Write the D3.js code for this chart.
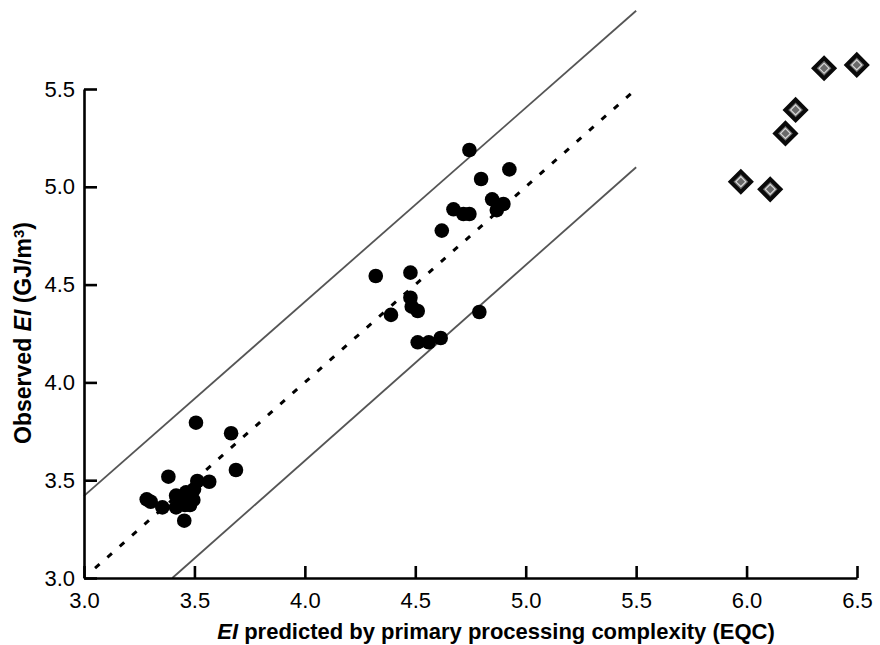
<!doctype html>
<html lang="en">
<head>
  <meta charset="utf-8">
  <title>Observed vs predicted EI</title>
  <script src="https://cdn.jsdelivr.net/npm/d3@7"></script>
  <style>
    body { margin: 0; background: #fff; }
    text { font-family: "Liberation Sans", Arial, sans-serif; fill: #000; }
  </style>
</head>
<body>
  <div id="chart"></div>
  <script>
    const BLACK = "#000";
    const LINE_GREY = "#555";

    // Circles: EI predicted (x) vs observed (y)
    const predictedEI = [
      3.507, 3.666, 3.688, 3.382, 3.513, 3.567, 3.284, 3.302, 3.355, 3.417,
      3.417, 3.462, 3.498, 3.495, 3.457, 3.480, 3.435, 3.454,
      4.745, 4.926, 4.798, 4.848, 4.899, 4.869, 4.673, 4.718, 4.745, 4.620,
      4.321, 4.478, 4.478, 4.484, 4.511, 4.390, 4.790, 4.511, 4.561, 4.615
    ];
    const observedEI = [
      3.794, 3.740, 3.552, 3.518, 3.496, 3.492, 3.402, 3.390, 3.361, 3.421,
      3.361, 3.438, 3.453, 3.399, 3.373, 3.373, 3.411, 3.293,
      5.188, 5.089, 5.040, 4.936, 4.912, 4.881, 4.885, 4.861, 4.861, 4.776,
      4.544, 4.561, 4.433, 4.387, 4.365, 4.345, 4.360, 4.205, 4.205, 4.227
    ];

    // Diamonds (outliers)
    const outlierPredicted = [5.974, 6.107, 6.176, 6.222, 6.351, 6.499];
    const outlierObserved = [5.026, 4.987, 5.273, 5.393, 5.606, 5.623];

    // Reference lines: y = x and +/- 0.4 band
    const upperLine = [[3.0, 3.42], [5.5, 5.9]];
    const identityLine = [[3.05, 3.05], [5.5, 5.5]];
    const lowerLine = [[3.4, 3.0], [5.5, 5.1]];

    const xTicks = [3.0, 3.5, 4.0, 4.5, 5.0, 5.5, 6.0, 6.5];
    const yTicks = [3.0, 3.5, 4.0, 4.5, 5.0, 5.5];

    const w = 880;
    const h = 645;

    const xScale = d3.scaleLinear().domain([3, 6.5]).range([84, 857]);
    const yScale = d3.scaleLinear().domain([3, 5.5]).range([578, 89]);

    const svg = d3.select("#chart")
      .append("svg")
      .attr("width", w)
      .attr("height", h);

    const line = d3.line()
      .x(d => xScale(d[0]))
      .y(d => yScale(d[1]));

    // band lines
    addPath(upperLine, LINE_GREY, 1.8, null);
    addPath(lowerLine, LINE_GREY, 1.8, null);
    addPath(identityLine, BLACK, 3, "6,10.5");

    // Axes (ticks point inward)
    const xAxis = d3.axisBottom(xScale)
      .tickValues(xTicks)
      .tickFormat(d3.format(".1f"))
      .tickSizeInner(-12)
      .tickSizeOuter(0)
      .tickPadding(14);

    const yAxis = d3.axisLeft(yScale)
      .tickValues(yTicks)
      .tickFormat(d3.format(".1f"))
      .tickSizeInner(-13)
      .tickSizeOuter(0)
      .tickPadding(9);

    addAxis("x_axis", `translate(0, ${yScale(3)})`, xAxis);
    addAxis("y_axis", `translate(${xScale(3)}, 0)`, yAxis);

    // Points
    const points = predictedEI.map((x, i) => ({ x, y: observedEI[i] }));
    svg.append("g")
      .selectAll("circle")
      .data(points)
      .enter()
      .append("circle")
      .attr("cx", d => xScale(d.x))
      .attr("cy", d => yScale(d.y))
      .attr("r", 7.3)
      .style("fill", BLACK);

    const outliers = outlierPredicted.map((x, i) => ({ x, y: outlierObserved[i] }));
    const dg = svg.append("g")
      .selectAll("g")
      .data(outliers)
      .enter()
      .append("g")
      .attr("transform", d => `translate(${xScale(d.x)}, ${yScale(d.y)}) rotate(45)`);
    dg.append("path")
      .attr("d", d3.symbol().type(d3.symbolSquare).size(210))
      .style("fill", "#6a6a6a")
      .style("stroke", "#0a0a0a")
      .style("stroke-width", 4);
    dg.append("path")
      .attr("d", d3.symbol().type(d3.symbolSquare).size(50))
      .style("fill", "none")
      .style("stroke", "#d8d8d8")
      .style("stroke-width", 1.2);

    // Axis titles
    const xTitle = svg.append("text")
      .attr("x", 496)
      .attr("y", 639)
      .style("text-anchor", "middle")
      .style("font-size", "22px")
      .style("font-weight", "bold");
    xTitle.append("tspan").style("font-style", "italic").text("EI");
    xTitle.append("tspan").text(" predicted by primary processing complexity (EQC)");

    const yTitle = svg.append("text")
      .attr("transform", "translate(31, 333) rotate(-90)")
      .style("text-anchor", "middle")
      .style("font-size", "23px")
      .style("font-weight", "bold");
    yTitle.append("tspan").text("Observed ");
    yTitle.append("tspan").style("font-style", "italic").text("EI");
    yTitle.append("tspan").text(" (GJ/m");
    yTitle.append("tspan").attr("dy", "-0.45em").style("font-size", "15px").text("3");
    yTitle.append("tspan").attr("dy", "0.3em").text(")");

    function addPath(data, color, width, dash) {
      svg.append("path")
        .datum(data)
        .style("fill", "none")
        .style("stroke", color)
        .style("stroke-width", width)
        .style("stroke-dasharray", dash)
        .attr("d", line);
    }

    function addAxis(_class, transform, axis) {
      const g = svg.append("g")
        .attr("class", _class)
        .attr("transform", transform)
        .call(axis);
      g.select(".domain").style("stroke", BLACK).style("stroke-width", 2.6);
      g.selectAll(".tick line").style("stroke", BLACK).style("stroke-width", 2.6);
      g.selectAll(".tick text")
        .style("font-size", "22px")
        .style("font-family", "\"Liberation Sans\", Arial, sans-serif");
    }
  </script>
</body>
</html>
